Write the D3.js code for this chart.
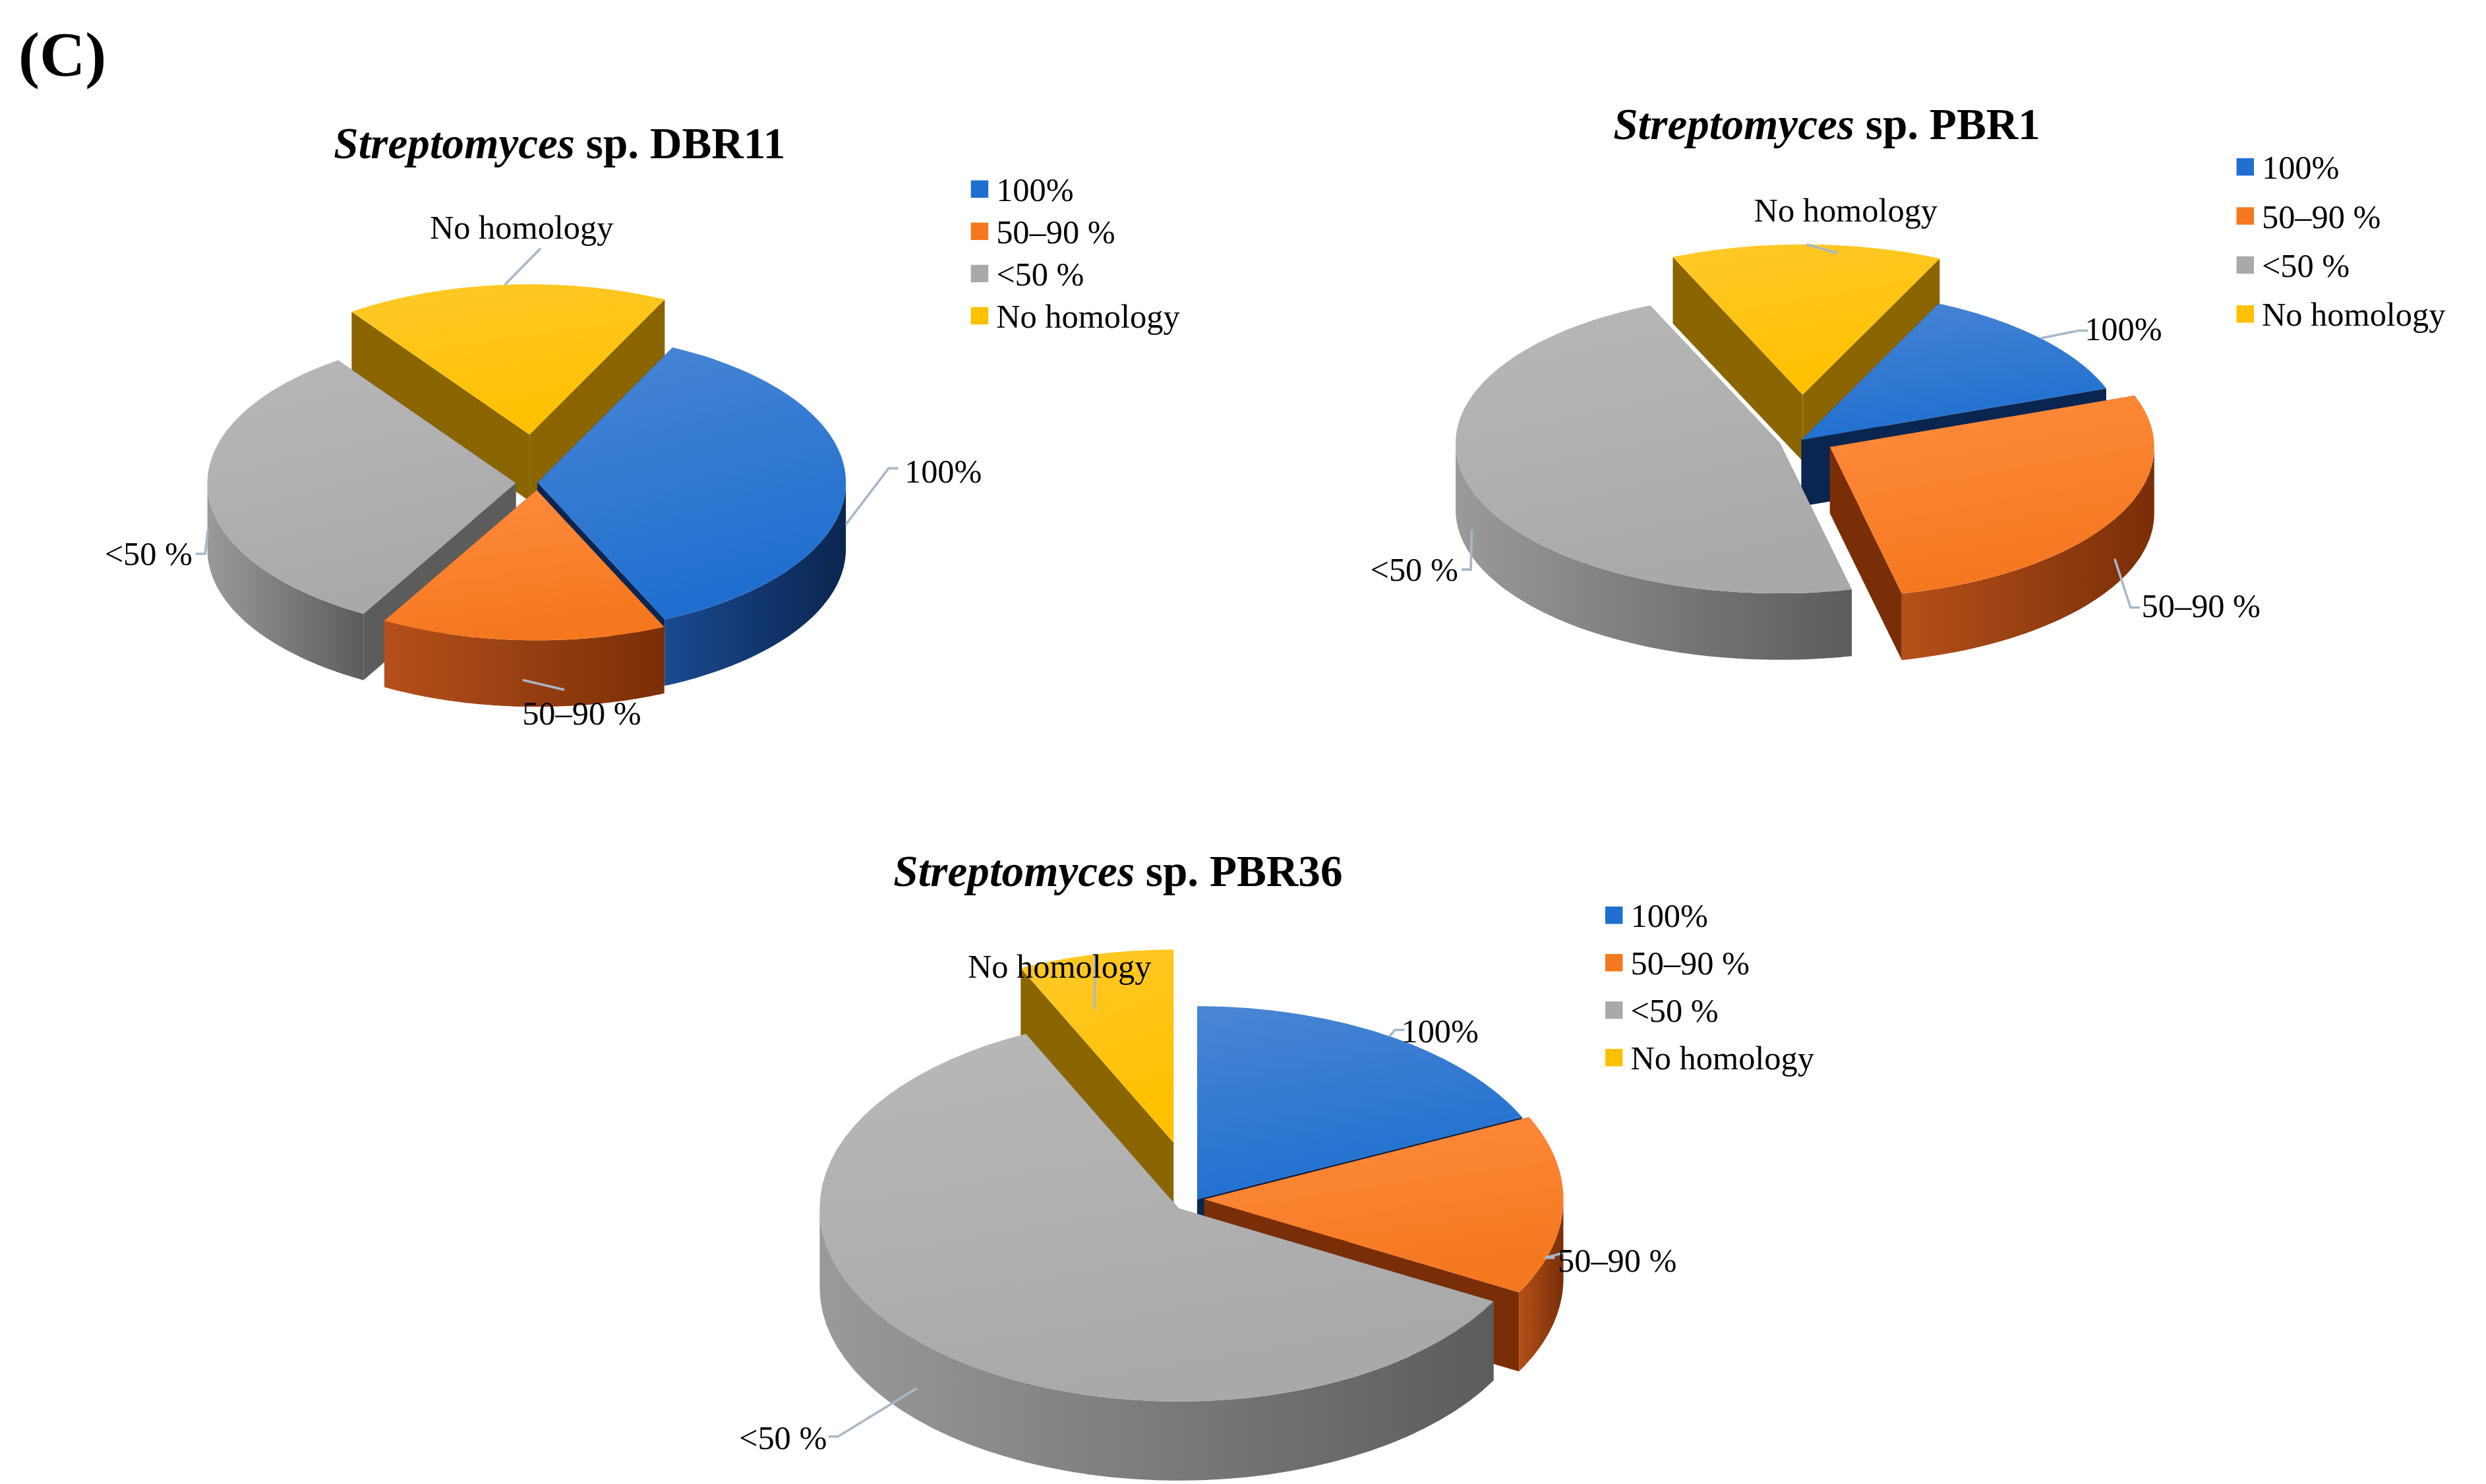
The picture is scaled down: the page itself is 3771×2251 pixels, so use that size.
<!DOCTYPE html>
<html><head><meta charset="utf-8">
<script src="https://cdn.jsdelivr.net/npm/d3@7"></script>
<style>body{margin:0;background:#fff} text{font-family:'Liberation Serif','Times New Roman',serif}</style></head>
<body><div id="c"></div>
<script>
const categories = ["100%", "50–90 %", "<50 %", "No homology"];
const strains = ["DBR11", "PBR1", "PBR36"];
const valuesDBR11 = [36, 15, 32, 17];
const valuesPBR1 = [12.5, 27, 47, 13.5];
const valuesPBR36 = [18, 15, 60, 7];

const topCol = ["#1f6fd0", "#f5781f", "#a9a9a9", "#ffc000"];
const topCol2 = ["#4a86d4", "#ff8c40", "#b8b8b8", "#ffc92a"];
const sideCol = ["#0a2550", "#7a2e08", "#5c5c5c", "#8a6500"];
const sideColL = ["#1a4a90", "#b5501a", "#9a9a9a", "#b58a00"];

const W = 3771, H = 2251, VW = 1568, VH = 938;
const svg = d3.select("#c").append("svg").attr("width", W).attr("height", H)
  .attr("viewBox", `0 0 ${VW} ${VH}`);
const defs = svg.append("defs");
categories.forEach((c, i) => {
  const g = defs.append("linearGradient").attr("id", "side" + i).attr("x1", 0).attr("x2", 1).attr("y1", 0).attr("y2", 0);
  g.append("stop").attr("offset", 0).attr("stop-color", sideColL[i]);
  g.append("stop").attr("offset", 1).attr("stop-color", sideCol[i]);
  const t = defs.append("linearGradient").attr("id", "top" + i).attr("x1", 0).attr("x2", 0.3).attr("y1", 0).attr("y2", 1);
  t.append("stop").attr("offset", 0).attr("stop-color", topCol2[i]);
  t.append("stop").attr("offset", 1).attr("stop-color", topCol[i]);
});

svg.append("text").attr("x", 10).attr("y", 48).attr("font-size", 40).attr("font-weight", "bold").text("(C)");

const charts = [
  { values: valuesDBR11, cx: 338, cy: 305, rx: 195, ry: 95, depth: 42, start: 26, explode: [0, 0.05, 0.07, 0.32],
    title: [352, 100], legend: [612, 127, 26.7],
    labels: [[560, 296, 570, 298, "start"], [355, 436, 366, 458, "middle"], [128, 350, 120, 350, "end"], [340, 157, 328, 151, "middle"]] },
  { values: valuesPBR1, cx: 1137, cy: 278, rx: 205, ry: 95, depth: 42, start: 25, explode: [0, 0.1, 0.07, 0.3],
    title: [1153, 88], legend: [1412, 113, 31],
    labels: [[1312, 209, 1316, 208, "start"], [1345, 384, 1352, 383, "start"], [928, 360, 920, 360, "end"], [1160, 160, 1165, 140, "middle"]] },
  { values: valuesPBR36, cx: 755, cy: 758, rx: 227, ry: 122, depth: 50, start: 0, explode: [0, 0.02, 0.07, 0.3],
    title: [705, 560], legend: [1013, 586, 30],
    labels: [[880, 651, 884, 652, "start"], [975, 795, 983, 797, "start"], [528, 908, 521, 909, "end"], [690, 638, 668, 618, "middle"]] }
];

const rad = d => d * Math.PI / 180;

charts.forEach((ch, ci) => {
  const g = svg.append("g");
  const t = g.append("text").attr("x", ch.title[0]).attr("y", ch.title[1]).attr("text-anchor", "middle")
    .attr("font-size", 28).attr("font-weight", "bold");
  t.append("tspan").attr("font-style", "italic").text("Streptomyces");
  t.append("tspan").text(" sp. " + strains[ci]);

  const total = d3.sum(ch.values);
  const ang = d3.scaleLinear().domain([0, total]).range([ch.start, ch.start + 360]);
  let acc = 0;
  const slices = ch.values.map((v, i) => {
    const a0 = ang(acc); acc += v; const a1 = ang(acc);
    const mid = (a0 + a1) / 2;
    const e = ch.explode[i];
    return { i, a0, a1, mid, dx: e * ch.rx * Math.sin(rad(mid)), dy: -e * ch.ry * Math.cos(rad(mid)) };
  });
  const pt = (s, a, r = 1, z = 0) => [ch.cx + s.dx + r * ch.rx * Math.sin(rad(a)), ch.cy + s.dy - r * ch.ry * Math.cos(rad(a)) + z];
  const line = d3.line();
  const order = slices.slice().sort((a, b) => -Math.cos(rad(a.mid)) - -Math.cos(rad(b.mid)));
  order.forEach(s => {
    const gs = g.append("g");
    const c = pt(s, 0, 0);
    [s.a0, s.a1].forEach(a => {
      const p = pt(s, a);
      gs.append("path").attr("d", line([c, p, [p[0], p[1] + ch.depth], [c[0], c[1] + ch.depth]]) + "Z")
        .attr("fill", sideCol[s.i]);
    });
    const pts = d3.range(s.a0, s.a1 + 0.01, (s.a1 - s.a0) / 60);
    const vis = pts.filter(a => Math.cos(rad(a)) < 0.02);
    if (vis.length > 1) {
      const top = vis.map(a => pt(s, a));
      const bot = vis.slice().reverse().map(a => pt(s, a, 1, ch.depth));
      gs.append("path").attr("d", line(top.concat(bot)) + "Z").attr("fill", `url(#side${s.i})`);
    }
    gs.append("path").attr("d", line([c].concat(pts.map(a => pt(s, a)))) + "Z").attr("fill", `url(#top${s.i})`);
  });

  slices.forEach(s => {
    const front = Math.cos(rad(s.mid)) < 0;
    const p0 = pt(s, s.mid, 1, front ? ch.depth * 0.6 : 0);
    const [ex, ey, tx, ty, anchor] = ch.labels[s.i];
    const p1 = [ex, ey];
    const p2 = anchor === "middle" ? p1 : [ex + (anchor === "start" ? 6 : -6), ey];
    g.append("path").attr("d", line([p0, p1, p2])).attr("fill", "none").attr("stroke", "#a8b8c8").attr("stroke-width", 1.5);
    g.append("text").attr("x", tx).attr("y", ty).attr("dy", anchor === "middle" ? 0 : 7)
      .attr("text-anchor", anchor).attr("font-size", 21).text(categories[s.i]);
  });

  const [lx, ly, sp] = ch.legend;
  categories.forEach((c, i) => {
    g.append("rect").attr("x", lx).attr("y", ly + i * sp - 13).attr("width", 11).attr("height", 11).attr("fill", topCol[i]);
    g.append("text").attr("x", lx + 16).attr("y", ly + i * sp).attr("font-size", 21).text(c);
  });
});
</script></body></html>
